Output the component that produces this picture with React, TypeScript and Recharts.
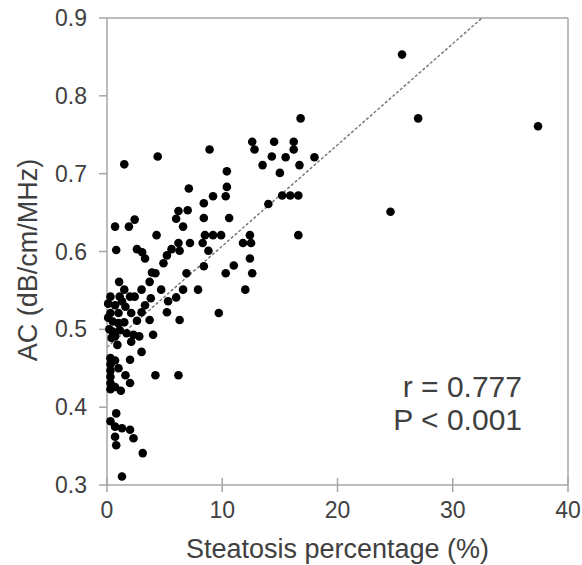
import React from "react";
import {
  ScatterChart,
  Scatter,
  XAxis,
  YAxis,
  ReferenceLine,
  Label,
} from "recharts";

// steatosis percentage (%) and attenuation coefficient (dB/cm/MHz)
const steatosis = [
  1.5, 4.4, 8.9, 12.6, 12.8, 14.5, 14.3, 13.5, 15.5, 16.2, 16.2, 16.7, 18.0, 15.0, 16.8, 10.4,
  25.6, 27.0, 37.4, 24.6,
  7.1, 10.4, 10.3, 9.2, 8.4, 6.2, 7.0, 6.0, 8.4, 10.6, 6.6, 4.3, 8.5, 9.2, 9.9, 12.4, 11.8, 12.5,
  8.3, 7.2, 6.2, 14.0, 15.2, 15.9, 16.6, 16.6, 0.7, 1.9, 2.4, 0.8, 2.6, 3.05, 3.3, 5.6, 5.2, 4.9,
  6.3, 8.8, 12.4, 8.4, 11.0, 3.9, 4.2, 3.7, 6.9, 10.3, 12.6, 1.05, 1.5, 3.0, 4.7, 6.6, 7.9, 12.0,
  0.3, 1.1, 2.0, 2.4, 3.8, 6.0, 5.3, 0.1, 0.7, 1.6, 3.3, 0.3, 1.0, 2.1, 3.0, 5.2, 9.7, 0.5, 1.0,
  1.5, 2.6, 3.7, 6.3,
  0.5, 1.1, 1.7, 2.3, 2.8, 4.0, 0.4, 0.7, 2.1, 3.0, 2.0, 0.7, 0.3, 0.3, 0.3, 0.3, 0.3, 0.3, 0.7,
  1.0, 1.6, 2.0, 1.2, 4.2, 6.2,
  0.8, 0.3, 0.7, 1.3, 2.0, 2.3, 0.7, 0.8, 3.1, 1.3,
  0.1, 0.2, 1.3, 0.9,
];

const attenuation = [
  0.712, 0.722, 0.731, 0.741, 0.731, 0.741, 0.722, 0.711, 0.721, 0.741, 0.731, 0.711, 0.721, 0.701, 0.771, 0.703,
  0.853, 0.771, 0.761, 0.651,
  0.681, 0.683, 0.671, 0.671, 0.662, 0.652, 0.653, 0.642, 0.643, 0.643, 0.632, 0.621, 0.621, 0.621, 0.621, 0.621, 0.611, 0.611,
  0.611, 0.611, 0.611, 0.661, 0.672, 0.672, 0.672, 0.621, 0.632, 0.632, 0.641, 0.602, 0.603, 0.599, 0.591, 0.603, 0.595, 0.585,
  0.601, 0.601, 0.591, 0.581, 0.582, 0.573, 0.572, 0.561, 0.572, 0.572, 0.572, 0.561, 0.551, 0.551, 0.551, 0.551, 0.551, 0.551,
  0.542, 0.542, 0.542, 0.542, 0.540, 0.541, 0.536, 0.533, 0.531, 0.529, 0.531, 0.521, 0.521, 0.521, 0.522, 0.522, 0.521, 0.510, 0.508,
  0.509, 0.511, 0.512, 0.512,
  0.497, 0.499, 0.495, 0.493, 0.491, 0.493, 0.489, 0.491, 0.484, 0.471, 0.461, 0.460, 0.463, 0.455, 0.447, 0.439, 0.431, 0.423, 0.426,
  0.450, 0.441, 0.431, 0.421, 0.441, 0.441,
  0.392, 0.382, 0.375, 0.373, 0.371, 0.360, 0.362, 0.351, 0.341, 0.311,
  0.515, 0.500, 0.536, 0.480,
];

const xTicks = [0, 10, 20, 30, 40];
const yTicks = [0.3, 0.4, 0.5, 0.6, 0.7, 0.8, 0.9];

// regression line
const fitIntercept = 0.477;
const fitSlope = 0.013;
const fitStart = 0;
const fitEnd = (0.9 - fitIntercept) / fitSlope;

const rText = "r = 0.777";
const pText = "P < 0.001";

const FONT = '"Liberation Sans", Arial, sans-serif';
const TEXT = "#404040";
const AXIS = "#a6a6a6";

const points = steatosis.map((x, i) => ({ x, y: attenuation[i] }));

const XTick = (props: any) => {
  const { x, y, payload } = props;
  const axisY = y - 7 - 10;
  return (
    <g>
      <line x1={x} x2={x} y1={axisY} y2={axisY - 7} stroke={AXIS} strokeWidth={1.5} />
      <text x={x} y={y} dy="0.71em" textAnchor="middle" fill={TEXT} fontSize={23} fontFamily={FONT}>
        {payload.value}
      </text>
    </g>
  );
};

export default function App() {
  return (
    <div style={{ position: "absolute", left: 0, top: 0, width: 582, height: 565, background: "#fff" }}>
      <ScatterChart width={582} height={565} margin={{ top: 18, right: 14, bottom: 0, left: 0 }}>
        <XAxis
          type="number"
          dataKey="x"
          domain={[0, 40]}
          ticks={xTicks}
          height={80}
          axisLine={{ stroke: AXIS, strokeWidth: 1.5 }}
          tickLine={{ stroke: AXIS, strokeWidth: 1.5 }}
          tickSize={7}
          tickMargin={10}
          tick={<XTick />}
        >
          <Label
            content={({ viewBox }: any) => (
              <text
                x={viewBox.x + viewBox.width / 2}
                y={558}
                textAnchor="middle"
                fill={TEXT}
                fontSize={27}
                fontFamily={FONT}
              >
                Steatosis percentage (%)
              </text>
            )}
          />
        </XAxis>
        <YAxis
          type="number"
          dataKey="y"
          domain={[0.3, 0.9]}
          ticks={yTicks}
          width={107}
          axisLine={{ stroke: AXIS, strokeWidth: 1.5 }}
          tickLine={{ stroke: AXIS, strokeWidth: 1.5 }}
          tickSize={8}
          tickMargin={12}
          tickFormatter={(v: number) => v.toFixed(1)}
          tick={{ fill: TEXT, fontSize: 23, fontFamily: FONT }}
        >
          <Label
            content={() => (
              <text
                x={28}
                y={260}
                transform="rotate(-90 28 260)"
                textAnchor="middle"
                dominantBaseline="central"
                fill={TEXT}
                fontSize={27}
                fontFamily={FONT}
              >
                AC (dB/cm/MHz)
              </text>
            )}
          />
        </YAxis>
        <ReferenceLine y={0.9} stroke={AXIS} strokeWidth={1.5} />
        <ReferenceLine x={40} stroke={AXIS} strokeWidth={1.5} />
        <ReferenceLine
          segment={[
            { x: fitStart, y: fitIntercept + fitSlope * fitStart },
            { x: fitEnd, y: fitIntercept + fitSlope * fitEnd },
          ]}
          stroke="#7a7a7a"
          strokeWidth={1.5}
          strokeDasharray="3 2"
        />
        <Scatter
          data={points}
          isAnimationActive={false}
          shape={(p: any) => <circle cx={p.cx} cy={p.cy} r={4.3} fill="#000" />}
        />
      </ScatterChart>
      <div
        style={{
          position: "absolute",
          left: 362,
          top: 370,
          width: 160,
          textAlign: "right",
          fontFamily: FONT,
          fontSize: 30,
          lineHeight: "33px",
          color: TEXT,
        }}
      >
        <div>{rText}</div>
        <div>{pText}</div>
      </div>
    </div>
  );
}
